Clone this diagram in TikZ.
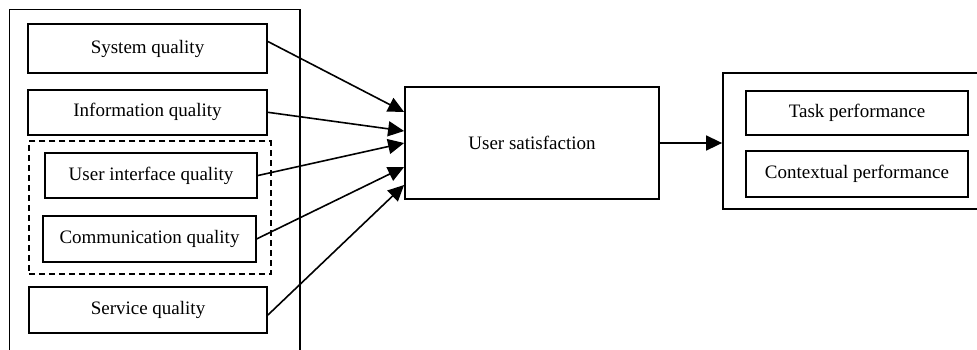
\documentclass[tikz,border=0pt]{standalone}
\usepackage{fontspec}
\setmainfont{Liberation Serif}
\usetikzlibrary{arrows.meta,positioning,calc,fit}

\begin{document}
\begin{tikzpicture}[
    x=0.5pt, y=-0.5pt,
    % --- STYLES ---
    factor/.style={
        rectangle, draw=black, fill=white,
        line width=0.9pt,
        minimum width=119.5pt,
        minimum height=23pt,
        align=center, font=\fontsize{9.5}{11}\selectfont,
        inner sep=2pt
    },
    group/.style={rectangle, draw=black, line width=0.9pt, inner sep=0pt},
    subgroup/.style={
        rectangle, draw=black, line width=0.9pt,
        dash pattern=on 3pt off 2pt,
        inner xsep=6.5pt, inner ysep=5.5pt
    },
    link/.style={-{Triangle[length=8pt,width=7.5pt]}, line width=0.8pt}
]

% page frame
\clip (0,0) rectangle (977,349);
\fill[white] (0,0) rectangle (977,349);

% ===== 1. OUTER GROUPS =====
\node[group, minimum width=145.25pt, minimum height=175.5pt] (quality) at (154.75,185) {};
\node[group, minimum width=134pt, minimum height=68pt] (perf) at (857,141) {};

% ===== 2. QUALITY FACTORS =====
\node[factor, minimum height=24.5pt] (sys) at (147.5,48.5) {System quality};
\node[factor, minimum height=22.5pt, below=7.5pt of sys] (info) {Information quality};

\node[factor, minimum width=106pt, minimum height=22.5pt] (ui) at (151,175.5) {User interface quality};
\node[factor, minimum width=106.5pt, below=8pt of ui, xshift=-0.75pt] (comm) {Communication quality};
\node[subgroup, fit=(ui)(comm)] (ifc) {};

\node[factor, minimum width=119pt] (serv) at (148,310) {Service quality};

% ===== 3. OUTCOMES =====
\node[factor, minimum width=127pt, minimum height=56pt] (us) at (532,143) {User satisfaction};

\node[factor, minimum width=111pt, minimum height=22pt] (task) at (857,113) {Task performance};
\node[factor, minimum width=111pt, below=7pt of task] (ctx) {Contextual performance};

% ===== 4. CONNECTIONS =====
\draw[link] ($(sys.east)+(0,-7)$) -- ($(us.west)+(0,-31)$);
\draw[link] (info.east) -- ($(us.west)+(0,-12)$);
\draw[link] (ui.east) -- (us.west);
\draw[link] (comm.east) -- ($(us.west)+(0,24)$);
\draw[link] ($(serv.east)+(0,5)$) -- ($(us.west)+(0,42)$);

\draw[link] (us.east) -- (us.east -| perf.west);

\end{tikzpicture}
\end{document}
